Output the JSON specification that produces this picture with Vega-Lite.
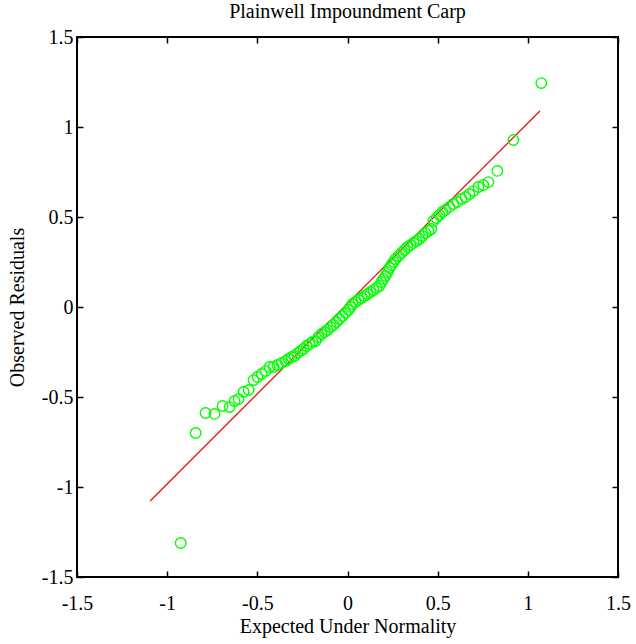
{
  "$schema": "https://vega.github.io/schema/vega-lite/v6.json",
  "autosize": {"type": "none"},
  "padding": {"left": 77, "top": 37, "right": 18, "bottom": 67},
  "width": 541,
  "height": 540,
  "title": {"text": "Plainwell Impoundment Carp", "font": "Liberation Serif", "fontSize": 20, "fontWeight": "normal", "color": "black", "offset": 5},
  "config": {
    "view": {"stroke": "black", "strokeWidth": 2},
    "axis": {"grid": false, "domain": false, "tickColor": "black", "tickWidth": 1.5, "tickSize": -6, "labelFont": "Liberation Serif", "labelFontSize": 20, "labelColor": "black", "titleFont": "Liberation Serif", "titleFontSize": 20, "titleFontWeight": "normal", "titleColor": "black"}
  },
  "datasets": {
    "pts": [
      {"x": -0.925, "y": -1.311}, {"x": -0.842, "y": -0.700}, {"x": -0.787, "y": -0.589}, {"x": -0.737, "y": -0.594},
      {"x": -0.693, "y": -0.550}, {"x": -0.654, "y": -0.556}, {"x": -0.626, "y": -0.522}, {"x": -0.604, "y": -0.511},
      {"x": -0.576, "y": -0.472}, {"x": -0.548, "y": -0.461}, {"x": -0.521, "y": -0.406}, {"x": -0.499, "y": -0.389},
      {"x": -0.476, "y": -0.372}, {"x": -0.454, "y": -0.356}, {"x": -0.432, "y": -0.333}, {"x": -0.410, "y": -0.333},
      {"x": -0.388, "y": -0.322}, {"x": -0.366, "y": -0.311}, {"x": -0.343, "y": -0.300}, {"x": -0.327, "y": -0.289},
      {"x": -0.310, "y": -0.278}, {"x": -0.294, "y": -0.272}, {"x": -0.277, "y": -0.256}, {"x": -0.260, "y": -0.244},
      {"x": -0.244, "y": -0.233}, {"x": -0.227, "y": -0.217}, {"x": -0.211, "y": -0.206}, {"x": -0.194, "y": -0.194},
      {"x": -0.177, "y": -0.189}, {"x": -0.161, "y": -0.167}, {"x": -0.144, "y": -0.150}, {"x": -0.127, "y": -0.139},
      {"x": -0.111, "y": -0.128}, {"x": -0.094, "y": -0.111}, {"x": -0.078, "y": -0.100}, {"x": -0.061, "y": -0.083},
      {"x": -0.044, "y": -0.067}, {"x": -0.028, "y": -0.050}, {"x": -0.011, "y": -0.033}, {"x": 0.006, "y": -0.017},
      {"x": 0.017, "y": 0.000}, {"x": 0.028, "y": 0.017}, {"x": 0.044, "y": 0.028}, {"x": 0.061, "y": 0.039},
      {"x": 0.078, "y": 0.050}, {"x": 0.094, "y": 0.061}, {"x": 0.111, "y": 0.072}, {"x": 0.127, "y": 0.083},
      {"x": 0.144, "y": 0.094}, {"x": 0.161, "y": 0.106}, {"x": 0.177, "y": 0.117}, {"x": 0.188, "y": 0.139},
      {"x": 0.199, "y": 0.156}, {"x": 0.211, "y": 0.172}, {"x": 0.222, "y": 0.194}, {"x": 0.233, "y": 0.217},
      {"x": 0.244, "y": 0.233}, {"x": 0.255, "y": 0.250}, {"x": 0.266, "y": 0.267}, {"x": 0.283, "y": 0.283},
      {"x": 0.299, "y": 0.300}, {"x": 0.316, "y": 0.317}, {"x": 0.332, "y": 0.333}, {"x": 0.349, "y": 0.344},
      {"x": 0.366, "y": 0.356}, {"x": 0.382, "y": 0.367}, {"x": 0.399, "y": 0.378}, {"x": 0.416, "y": 0.394},
      {"x": 0.432, "y": 0.411}, {"x": 0.449, "y": 0.422}, {"x": 0.465, "y": 0.433}, {"x": 0.476, "y": 0.478},
      {"x": 0.493, "y": 0.494}, {"x": 0.510, "y": 0.511}, {"x": 0.526, "y": 0.528}, {"x": 0.543, "y": 0.539},
      {"x": 0.565, "y": 0.556}, {"x": 0.587, "y": 0.572}, {"x": 0.609, "y": 0.583}, {"x": 0.632, "y": 0.600},
      {"x": 0.654, "y": 0.611}, {"x": 0.676, "y": 0.628}, {"x": 0.698, "y": 0.644}, {"x": 0.726, "y": 0.667},
      {"x": 0.753, "y": 0.678}, {"x": 0.781, "y": 0.694}, {"x": 0.831, "y": 0.756}, {"x": 0.920, "y": 0.928},
      {"x": 1.075, "y": 1.244}
    ],
    "ref": [
      {"x": -1.094, "y": -1.078},
      {"x": 1.067, "y": 1.089}
    ]
  },
  "layer": [
    {
      "data": {"name": "ref"},
      "mark": {"type": "line", "color": "#ff0000", "strokeWidth": 1.2, "clip": true},
      "encoding": {
        "x": {"field": "x", "type": "quantitative", "scale": {"domain": [-1.5, 1.5], "nice": false, "zero": false},
              "axis": {"values": [-1.5, -1, -0.5, 0, 0.5, 1, 1.5], "labelExpr": "toString(datum.value)", "title": "Expected Under Normality", "labelPadding": 22, "titlePadding": 3, "labelFlush": false}},
        "y": {"field": "y", "type": "quantitative", "scale": {"domain": [-1.5, 1.5], "nice": false, "zero": false},
              "axis": {"values": [-1.5, -1, -0.5, 0, 0.5, 1, 1.5], "labelExpr": "toString(datum.value)", "title": "Observed Residuals", "labelPadding": 10, "titlePadding": 14, "labelFlush": false}}
      }
    },
    {
      "data": {"name": "pts"},
      "mark": {"type": "point", "shape": "circle", "filled": false, "color": "#00ff00", "size": 110, "strokeWidth": 1.4, "opacity": 1},
      "encoding": {
        "x": {"field": "x", "type": "quantitative", "scale": {"domain": [-1.5, 1.5], "nice": false, "zero": false},
              "axis": {"orient": "top", "values": [-1.5, -1, -0.5, 0, 0.5, 1, 1.5], "labels": false, "title": null}},
        "y": {"field": "y", "type": "quantitative", "scale": {"domain": [-1.5, 1.5], "nice": false, "zero": false},
              "axis": {"orient": "right", "values": [-1.5, -1, -0.5, 0, 0.5, 1, 1.5], "labels": false, "title": null}}
      }
    }
  ],
  "resolve": {"axis": {"x": "independent", "y": "independent"}}
}
